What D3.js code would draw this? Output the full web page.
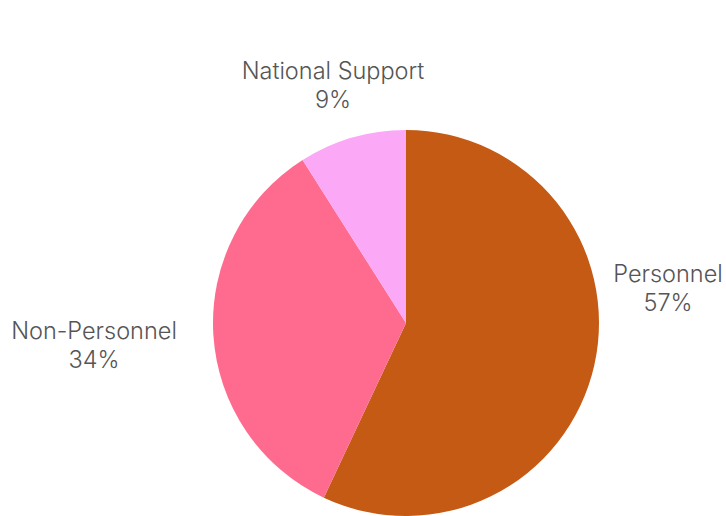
<!DOCTYPE html>
<html lang="en">
<head>
    <meta charset="UTF-8">
    <title>Budget split</title>
    <script src="https://cdn.jsdelivr.net/npm/d3@7"></script>
    <style>
        body {
            margin: 0;
            background-color: #fff;
        }

        .label {
            font-family: Inter, "Open Sans", sans-serif;
            font-weight: 300;
            font-size: 23.5px;
            fill: #555;
        }
    </style>
</head>
<body>
    <div id="chart"></div>

    <script>
        // Data
        const categories = ["Personnel", "Non-Personnel", "National Support"];
        const shares = [57, 34, 9];
        const colors = ["#C55A15", "#FE6B8F", "#FBA8F6"];

        const width = 726;
        const height = 516;
        const cx = 406;
        const cy = 323;
        const radius = 193;

        const svg = d3.select("#chart")
            .append("svg")
            .attr("width", width)
            .attr("height", height);

        const data = categories.map((c, i) => ({ name: c, value: shares[i], color: colors[i] }));

        const pie = d3.pie()
            .sort(null)
            .value(d => d.value);

        const arc = d3.arc()
            .innerRadius(0)
            .outerRadius(radius);

        const g = svg.append("g")
            .attr("transform", `translate(${cx},${cy})`);

        const arcs = pie(data);

        g.selectAll("path")
            .data(arcs)
            .enter()
            .append("path")
            .attr("d", arc)
            .attr("fill", d => d.data.color);

        // labels sit outside the pie, offsets from the centre
        const offsets = {
            "Personnel": [262, -41],
            "Non-Personnel": [-312, 16],
            "National Support": [-73, -244]
        };

        const labels = g.selectAll("text.label")
            .data(arcs)
            .enter()
            .append("text")
            .attr("class", "label")
            .attr("text-anchor", "middle")
            .attr("transform", d => {
                const o = offsets[d.data.name];
                return `translate(${o[0]},${o[1]})`;
            });

        labels.append("tspan")
            .attr("x", 0)
            .attr("dy", 0)
            .text(d => d.data.name);

        labels.append("tspan")
            .attr("x", 0)
            .attr("dy", 29)
            .text(d => d.data.value + "%");
    </script>
</body>
</html>
